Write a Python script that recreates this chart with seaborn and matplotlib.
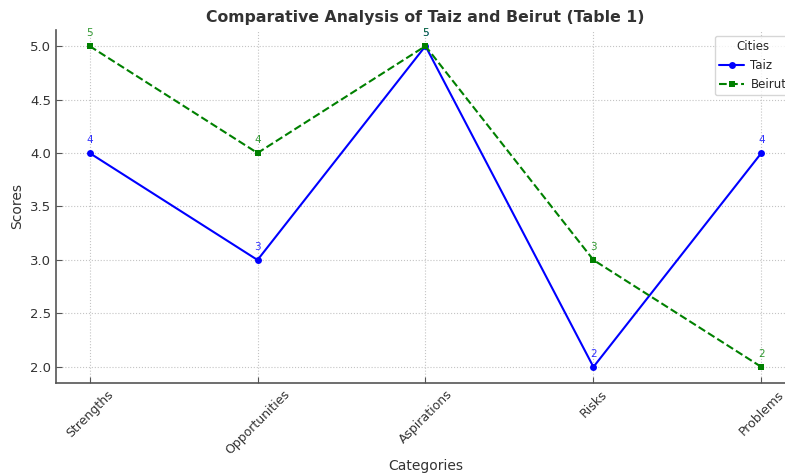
import matplotlib
matplotlib.use("Agg")
import matplotlib.pyplot as plt
import seaborn as sns
import pandas as pd

categories = ["Strengths", "Opportunities", "Aspirations", "Risks", "Problems"]
taiz_scores = [4, 3, 5, 2, 4]
beirut_scores = [5, 4, 5, 3, 2]

sns.set_theme(style="whitegrid")
plt.rcParams["font.family"] = ["DejaVu Sans"]

df = pd.DataFrame({
    "Categories": categories * 2,
    "Scores": taiz_scores + beirut_scores,
    "City": ["Taiz"] * len(categories) + ["Beirut"] * len(categories),
})

fig = plt.figure(figsize=(7.85, 4.76), dpi=100)
ax = fig.add_axes([0.0713, 0.1954, 0.9414, 0.7416])

styles = {
    "Taiz": dict(color="blue", marker="o", linestyle="-"),
    "Beirut": dict(color="green", marker="s", linestyle="--"),
}
for city, st in styles.items():
    sub = df[df["City"] == city]
    sns.lineplot(data=sub, x="Categories", y="Scores", ax=ax, label=city,
                 color=st["color"], marker=st["marker"], linestyle=st["linestyle"],
                 markersize=5, linewidth=1.5, markeredgewidth=0, sort=False)
    for i, v in enumerate(sub["Scores"]):
        ax.annotate(str(v), (i, v), textcoords="offset points", xytext=(0, 6),
                    ha="center", va="bottom", fontsize=7.5, color=st["color"],
                    alpha=0.8)

ax.set_xlim(-0.2, 4.2)
ax.set_ylim(1.85, 5.15)
ax.set_yticks([2.0, 2.5, 3.0, 3.5, 4.0, 4.5, 5.0])

ax.set_title("Comparative Analysis of Taiz and Beirut (Table 1)",
             fontsize=11.3, fontweight="bold", color="#333333")
ax.set_xlabel("Categories", fontsize=10, color="#333333", labelpad=1)
ax.set_ylabel("Scores", fontsize=10, color="#333333")

ax.grid(True, linestyle=":", color="#c4c4c4", linewidth=0.8)
ax.tick_params(axis="both", direction="in", length=4, width=0.8,
               colors="#555555", labelcolor="#333333", labelsize=9,
               bottom=True, left=True)
ax.tick_params(axis="y", labelsize=9.5)
plt.setp(ax.get_xticklabels(), rotation=45, ha="center")

for side in ["top", "right"]:
    ax.spines[side].set_visible(False)
for side in ["left", "bottom"]:
    ax.spines[side].set_visible(True)
    ax.spines[side].set_color("#555555")
    ax.spines[side].set_linewidth(1.2)

leg = ax.legend(title="Cities", loc="upper left", fontsize=8.5,
                title_fontsize=8.5, frameon=True, handlelength=2.1,
                handletextpad=0.55, borderpad=0.35,
                bbox_to_anchor=(715 / 785, 1 - 36 / 476),
                bbox_transform=fig.transFigure, borderaxespad=0)
leg.get_frame().set_edgecolor("#cccccc")

fig.savefig("out.png", dpi=100)
